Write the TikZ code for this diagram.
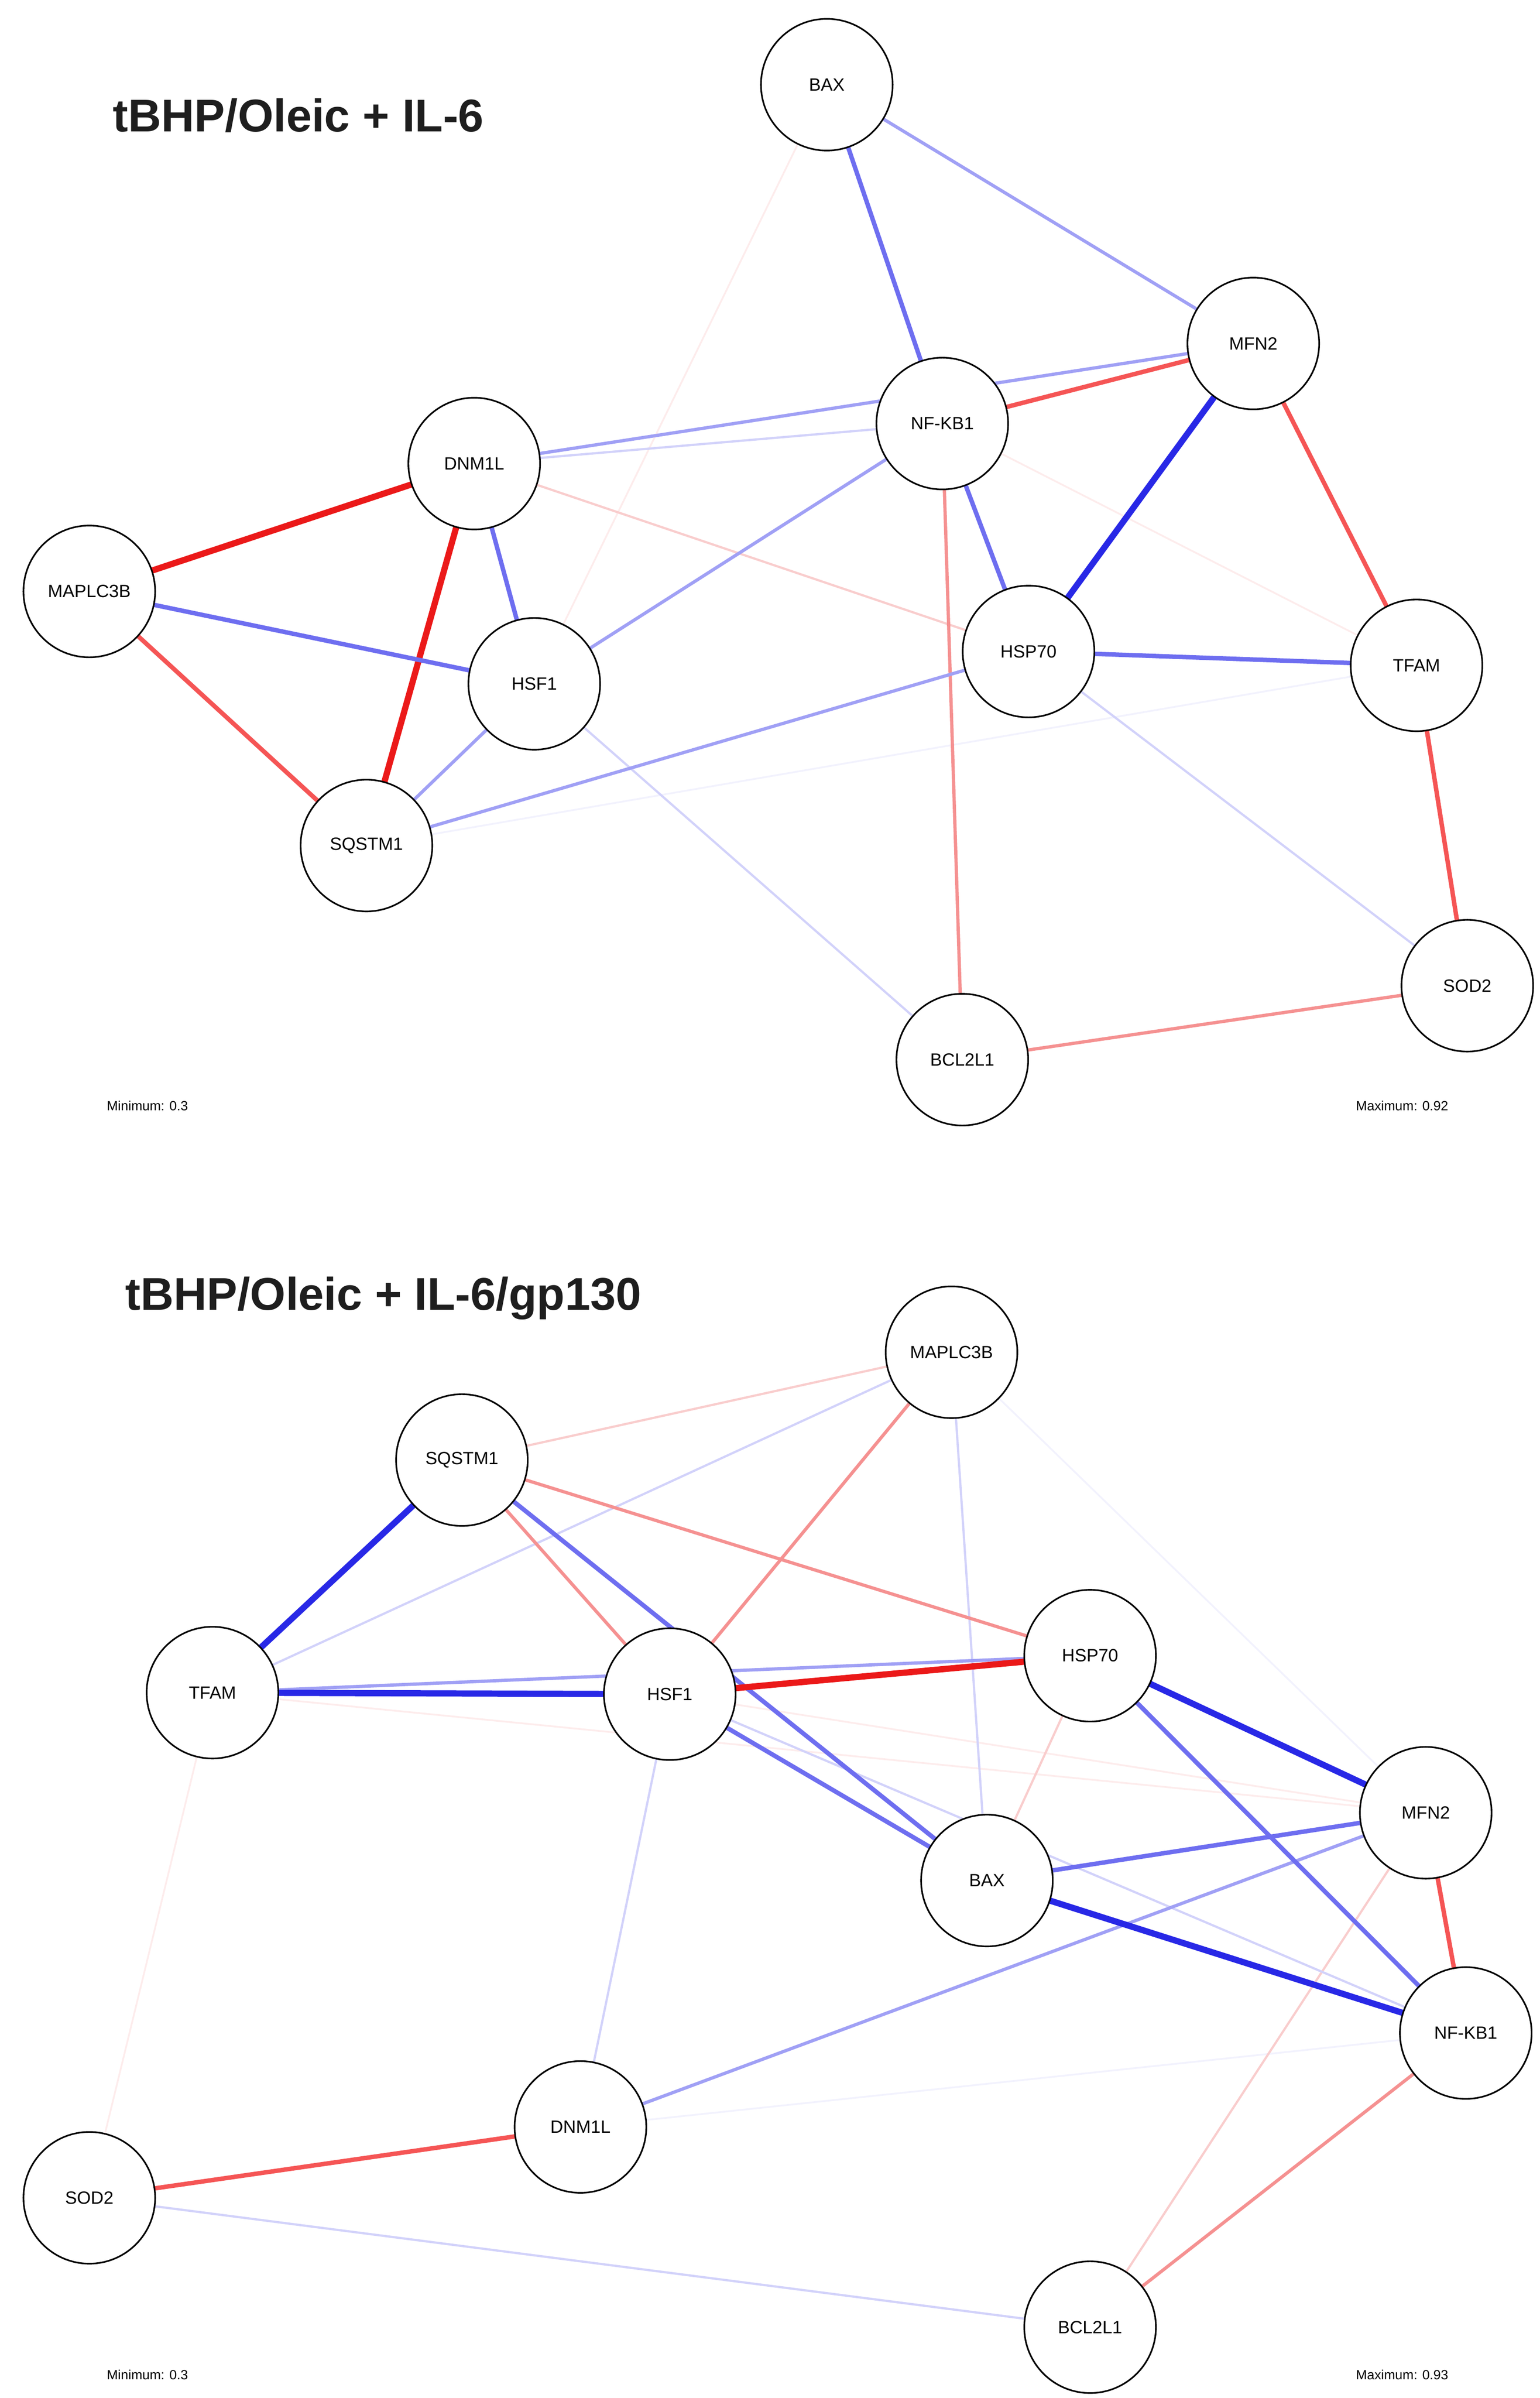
\documentclass[tikz,border=0pt]{standalone}
\usepackage{fontspec}
\setmainfont{Liberation Sans}
\begin{document}
\begin{tikzpicture}[x=0.03658cm,y=-0.03658cm,
 gn/.style={circle,draw,line width=1.1pt,fill=white,minimum size=89pt,inner sep=0pt,font=\fontsize{12}{14}\selectfont},
 B4/.style={draw={rgb,255:red,40;green,40;blue,230},line width=4.2pt},
 B3/.style={draw={rgb,255:red,110;green,110;blue,240},line width=3pt},
 B2/.style={draw={rgb,255:red,160;green,160;blue,245},line width=2.2pt},
 B1/.style={draw={rgb,255:red,210;green,210;blue,250},line width=1.5pt},
 B0/.style={draw={rgb,255:red,242;green,242;blue,253},line width=1.2pt},
 R4/.style={draw={rgb,255:red,235;green,25;blue,25},line width=4.2pt},
 R3/.style={draw={rgb,255:red,245;green,85;blue,85},line width=3pt},
 R2/.style={draw={rgb,255:red,245;green,145;blue,145},line width=2.2pt},
 R1/.style={draw={rgb,255:red,249;green,205;blue,205},line width=1.5pt},
 R0/.style={draw={rgb,255:red,253;green,236;blue,236},line width=1.2pt},
 ttl/.style={anchor=west,font=\bfseries\fontsize{31}{34}\selectfont,text={rgb,255:red,30;green,30;blue,30}},
 mm/.style={font=\fontsize{9}{10}\selectfont}]
\useasboundingbox (0,0) rectangle (1000,1557);
% top
\node[ttl] (t1) at (70,75) {tBHP/Oleic + IL-6};
\node[mm,anchor=west] (min1) at (66,718) {Minimum: 0.3};
\node[mm,anchor=east] (max1) at (944,718) {Maximum: 0.92};
\begin{scope}[name prefix=a]
\coordinate (BAX) at (537,55); \coordinate (MFN2) at (814,223); \coordinate (NFKB1) at (612,275);
\coordinate (DNM1L) at (308,301); \coordinate (MAP) at (58,384); \coordinate (HSF1) at (347,444);
\coordinate (HSP70) at (668,423); \coordinate (TFAM) at (920,432); \coordinate (SQ) at (238,549);
\coordinate (SOD2) at (953,640); \coordinate (BCL) at (625,688);
\draw[R0] (BAX)--(HSF1); \draw[B0] (SQ)--(TFAM); \draw[R0] (NFKB1)--(TFAM);
\draw[B1] (HSF1)--(BCL); \draw[B1] (HSP70)--(SOD2); \draw[R1] (DNM1L)--(HSP70);
\draw[B1] (DNM1L)--(NFKB1); \draw[B2] (NFKB1)--(HSF1); \draw[R2] (NFKB1)--(BCL);
\draw[B2] (BAX)--(MFN2); \draw[B2] (SQ)--(HSP70); \draw[B2] (HSF1)--(SQ);
\draw[B2] (DNM1L)--(MFN2);
\draw[B3] (BAX)--(NFKB1); \draw[R3] (NFKB1)--(MFN2); \draw[B4] (MFN2)--(HSP70);
\draw[R3] (MFN2)--(TFAM); \draw[B3] (NFKB1)--(HSP70); \draw[R4] (DNM1L)--(MAP);
\draw[R4] (DNM1L)--(SQ); \draw[B3] (DNM1L)--(HSF1); \draw[B3] (MAP)--(HSF1);
\draw[R3] (MAP)--(SQ); \draw[B3] (HSP70)--(TFAM); \draw[R3] (TFAM)--(SOD2); \draw[R2] (SOD2)--(BCL);
\end{scope}
\node[gn] (n1) at (aBAX) {BAX}; \node[gn] (n2) at (aMFN2) {MFN2}; \node[gn] (n3) at (aNFKB1) {NF-KB1};
\node[gn] (n4) at (aDNM1L) {DNM1L}; \node[gn] (n5) at (aMAP) {MAPLC3B}; \node[gn] (n6) at (aHSF1) {HSF1};
\node[gn] (n7) at (aHSP70) {HSP70}; \node[gn] (n8) at (aTFAM) {TFAM}; \node[gn] (n9) at (aSQ) {SQSTM1};
\node[gn] (n10) at (aSOD2) {SOD2}; \node[gn] (n11) at (aBCL) {BCL2L1};
% bottom
\node[ttl] (t2) at (78,843) {tBHP/Oleic + IL-6/gp130};
\node[mm,anchor=west] (min2) at (66,1542) {Minimum: 0.3};
\node[mm,anchor=east] (max2) at (944,1542) {Maximum: 0.93};
\begin{scope}[name prefix=b]
\coordinate (MAP) at (618,878); \coordinate (SQ) at (300,948); \coordinate (TFAM) at (138,1099);
\coordinate (HSF1) at (435,1100); \coordinate (HSP70) at (708,1075); \coordinate (MFN2) at (926,1177);
\coordinate (BAX) at (641,1221); \coordinate (NFKB1) at (952,1320); \coordinate (DNM1L) at (377,1381);
\coordinate (SOD2) at (58,1427); \coordinate (BCL) at (708,1511);
\draw[B0] (MAP)--(MFN2); \draw[B0] (NFKB1)--(DNM1L); \draw[R0] (TFAM)--(MFN2); \draw[R0] (HSF1)--(MFN2);
\draw[R0] (TFAM)--(SOD2); \draw[R1] (MFN2)--(BCL); \draw[B1] (MAP)--(TFAM); \draw[B1] (MAP)--(BAX);
\draw[B1] (SOD2)--(BCL); \draw[B1] (HSF1)--(DNM1L); \draw[B2] (TFAM)--(HSP70); \draw[B1] (HSF1)--(NFKB1);
\draw[R1] (HSP70)--(BAX); \draw[R2] (NFKB1)--(BCL); \draw[R1] (SQ)--(MAP); \draw[R2] (SQ)--(HSF1);
\draw[R2] (MAP)--(HSF1); \draw[R2] (SQ)--(HSP70); \draw[B2] (MFN2)--(DNM1L);
\draw[B3] (SQ)--(BAX); \draw[B3] (HSF1)--(BAX); \draw[B3] (HSP70)--(NFKB1); \draw[B3] (BAX)--(MFN2);
\draw[B4] (SQ)--(TFAM); \draw[B4] (TFAM)--(HSF1); \draw[R4] (HSF1)--(HSP70); \draw[B4] (HSP70)--(MFN2);
\draw[B4] (BAX)--(NFKB1); \draw[R3] (MFN2)--(NFKB1); \draw[R3] (DNM1L)--(SOD2);
\end{scope}
\node[gn] (m1) at (bMAP) {MAPLC3B}; \node[gn] (m2) at (bSQ) {SQSTM1}; \node[gn] (m3) at (bTFAM) {TFAM};
\node[gn] (m4) at (bHSF1) {HSF1}; \node[gn] (m5) at (bHSP70) {HSP70}; \node[gn] (m6) at (bMFN2) {MFN2};
\node[gn] (m7) at (bBAX) {BAX}; \node[gn] (m8) at (bNFKB1) {NF-KB1}; \node[gn] (m9) at (bDNM1L) {DNM1L};
\node[gn] (m10) at (bSOD2) {SOD2}; \node[gn] (m11) at (bBCL) {BCL2L1};
\end{tikzpicture}
\end{document}
